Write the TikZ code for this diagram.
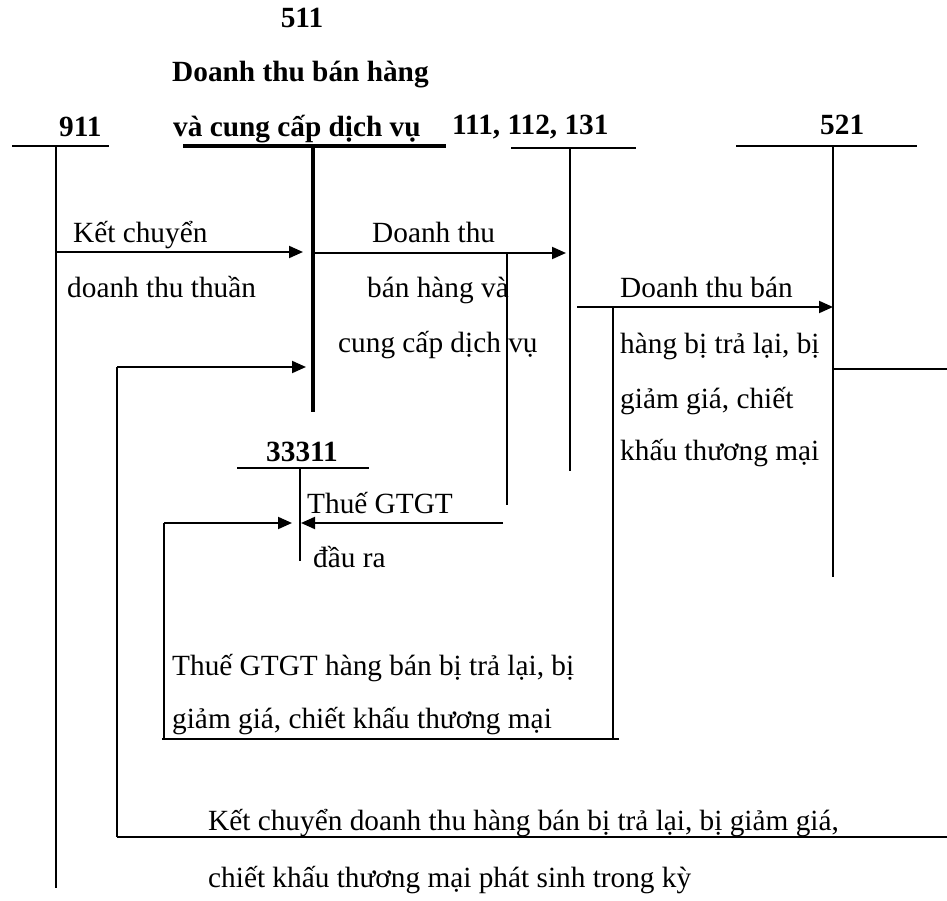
\documentclass[tikz,border=0pt]{standalone}
\usepackage{fontspec}
\setmainfont{Liberation Serif}
\usetikzlibrary{arrows.meta}
\newcommand\lblfont{\fontsize{29.3pt}{35pt}\selectfont}
\begin{document}
\begin{tikzpicture}[x=1pt,y=-1pt,
  txt/.style={inner sep=0pt,anchor=base west,font=\lblfont},
  hd/.style={inner sep=0pt,anchor=base west,font=\lblfont\bfseries},
  acc/.style={line width=2pt},
  main/.style={line width=4pt},
  thin/.style={line width=1.3pt},
  arr/.style={line width=2pt,-{Triangle[length=14pt,width=12pt]}}]
\useasboundingbox (0,0) rectangle (947,901);

% ---- account headings ----
\node[hd,anchor=base] (h511) at (302,28) {511};
\node[hd] (h511a) at (172,82) {Doanh thu bán hàng};
\node[hd] (h511b) at (173,137) {và cung cấp dịch vụ};
\node[hd] (h911) at (59,137) {911};
\node[hd] (h111) at (452,135) {111, 112, 131};
\node[hd] (h521) at (820,135) {521};
\node[hd] (h333) at (266,461) {33311};

% ---- T-account frames ----
\coordinate (a911L) at (12,146);   \coordinate (a911R) at (109,146);
\coordinate (a911T) at (56,146);   \coordinate (a911B) at (56,888);
\coordinate (a511L) at (183,146);  \coordinate (a511R) at (446,146);
\coordinate (a511T) at (313,146);  \coordinate (a511B) at (313,412);
\coordinate (a111L) at (511,148);  \coordinate (a111R) at (636,148);
\coordinate (a111T) at (570,148);  \coordinate (a111B) at (570,471);
\coordinate (a521L) at (736,146);  \coordinate (a521R) at (917,146);
\coordinate (a521T) at (833,146);  \coordinate (a521B) at (833,577);
\coordinate (a333L) at (237,468);  \coordinate (a333R) at (369,468);
\coordinate (a333T) at (300,468);  \coordinate (a333B) at (300,561);

\draw[acc] (a911L) -- (a911R) (a911T) -- (a911B);
\draw[main] (a511L) -- (a511R) (a511T) -- (a511B);
\draw[acc] (a111L) -- (a111R) (a111T) -- (a111B);
\draw[acc] (a521L) -- (a521R) (a521T) -- (a521B);
\draw[acc] (a333L) -- (a333R) (a333T) -- (a333B);

% ---- 911 -> 511 ----
\coordinate (k1s) at (56,252);  \coordinate (k1e) at (303,252);
\draw[arr] (k1s) -- (k1e);
\node[txt] (t1a) at (73,243) {Kết chuyển};
\node[txt] (t1b) at (67,298) {doanh thu thuần};

% ---- 511 -> 111, 112, 131 ----
\coordinate (k2s) at (315,253); \coordinate (k2e) at (566,253);
\draw[arr] (k2s) -- (k2e);
\node[txt] (t2a) at (372,243) {Doanh thu};
\node[txt] (t2b) at (367,298) {bán hàng và};
\node[txt] (t2c) at (338,352) {cung cấp dịch vụ};

% ---- output VAT to 33311 ----
\coordinate (v1t) at (507,253); \coordinate (v1b) at (507,505);
\draw[thin] (v1t) -- (v1b);
\coordinate (k3s) at (503,523); \coordinate (k3e) at (301,523);
\draw[arr] (k3s) -- (k3e);
\node[txt] (t3a) at (307,513) {Thuế GTGT};
\node[txt] (t3b) at (313,567) {đầu ra};

% ---- 111, 112, 131 -> 521 ----
\coordinate (k4s) at (577,307); \coordinate (k4e) at (833,307);
\draw[arr] (k4s) -- (k4e);
\node[txt] (t4a) at (620,297) {Doanh thu bán};
\node[txt] (t4b) at (620,353) {hàng bị trả lại, bị};
\node[txt] (t4c) at (620,408) {giảm giá, chiết};
\node[txt] (t4d) at (620,460) {khấu thương mại};

% ---- VAT on returns, allowances and discounts ----
\coordinate (b1) at (613,307); \coordinate (b2) at (613,739);
\coordinate (b3) at (619,739); \coordinate (b4) at (162,739);
\coordinate (b5) at (164,739); \coordinate (b6) at (164,523);
\coordinate (b7) at (292,523);
\draw[thin] (b1) -- (b2);
\draw[thin] (b3) -- (b4);
\draw[thin] (b5) -- (b6);
\draw[arr] (b6) -- (b7);
\node[txt] (t5a) at (172,675) {Thuế GTGT hàng bán bị trả lại, bị};
\node[txt] (t5b) at (172,728) {giảm giá, chiết khấu thương mại};

% ---- 521 closed out to 511 ----
\coordinate (c1) at (833,369); \coordinate (c2) at (947,369);
\draw[thin] (c1) -- (c2);
\coordinate (c3) at (947,837); \coordinate (c4) at (117,837);
\coordinate (c5) at (117,367); \coordinate (c6) at (306,367);
\draw[thin] (c3) -- (c4);
\draw[thin] (c4) -- (c5);
\draw[arr] (c5) -- (c6);
\node[txt] (t6a) at (208,830) {Kết chuyển doanh thu hàng bán bị trả lại, bị giảm giá,};
\node[txt] (t6b) at (208,887) {chiết khấu thương mại phát sinh trong kỳ};
\end{tikzpicture}
\end{document}
